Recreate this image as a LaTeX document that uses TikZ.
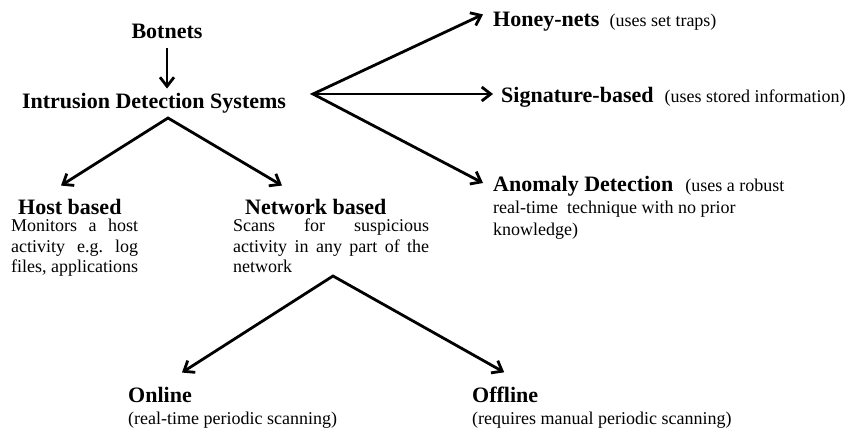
\documentclass[tikz,border=0pt]{standalone}
\usepackage{fontspec}
\setmainfont{Liberation Serif}
\usetikzlibrary{arrows.meta, calc}
\hyphenpenalty=10000
\tolerance=9999

\begin{document}
\begin{tikzpicture}[x=1pt, y=-1pt,
        head/.style={font=\fontsize{22}{26}\selectfont\bfseries, inner sep=0pt},
        note/.style={font=\fontsize{18}{20.5}\selectfont, inner sep=0pt, align=justify},
        item/.style={font=\fontsize{18}{22}\selectfont, inner sep=0pt, align=left},
        arrow/.style={-{Straight Barb[length=9pt, width=14pt]}, line width=2.8pt},
        fork/.style={{Straight Barb[length=9pt, width=14pt]}-{Straight Barb[length=9pt, width=14pt]}, line width=2.8pt, line join=miter}
    ]
    \useasboundingbox (0,0) rectangle (850,428);

    % Top
    \node[head, anchor=base] (bot) at (167,38) {Botnets};
    \node[head, anchor=base] (ids) at (154,108) {Intrusion Detection Systems};

    % Host / network
    \node[head, anchor=base west] (host) at (18,214) {Host based};
    \node[note, anchor=north west, text width=127pt] (hostnote) at (11,219) {Monitors a host activity e.g.\ log files, applications};
    \node[head, anchor=base west] (net) at (245,214) {Network based};
    \node[note, anchor=north west, text width=196pt] (netnote) at (233,219) {Scans for suspicious activity in any part of the network};

    % Detection methods
    \node[item, anchor=base west] (honey) at (493,27) {{\fontsize{22}{26}\selectfont\bfseries Honey-nets}\hspace{10pt}(uses set traps)};
    \node[item, anchor=base west] (sig) at (501,102) {{\fontsize{22}{26}\selectfont\bfseries Signature-based}\hspace{11pt}(uses stored information)};
    \node[item, anchor=north west] (anom) at (493,176) {{\fontsize{22}{26}\selectfont\bfseries Anomaly Detection}\hspace{12pt}(uses a robust\\real-time\ \ technique with no prior\\knowledge)};

    % Online / offline
    \node[head, anchor=base west] (online) at (128,402) {Online};
    \node[item, anchor=base west] (onlinenote) at (128,424) {(real-time periodic scanning)};
    \node[head, anchor=base west] (offline) at (472,402) {Offline};
    \node[item, anchor=base west] (offlinenote) at (472,424) {(requires manual periodic scanning)};

    % Forks
    \coordinate (fork1) at (168,118);
    \coordinate (fork2) at (313,94);
    \coordinate (fork3) at (333,276);

    \draw[arrow] ($(bot.south)+(0,10)$) -- ($(bot.south |- ids.north)+(0,-4)$);
    \draw[fork] ($(host.north west)+(43,-13)$) -- (fork1) -- ($(net.north west)+(37,-13)$);
    \draw[fork] ($(honey.north west)+(-10,2)$) -- (fork2) -- ($(anom.north west)+(-10,7)$);
    \draw[arrow] (fork2) -- ($(sig.base west)+(-8,-8)$);
    \draw[fork] ($(online.north)+(22,-14)$) -- (fork3) -- ($(offline.north)+(-1,-14)$);
\end{tikzpicture}
\end{document}
